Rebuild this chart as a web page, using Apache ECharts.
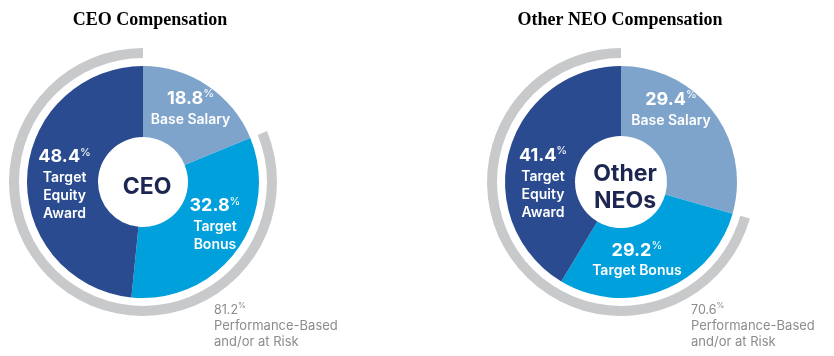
<!DOCTYPE html>
<html><head><meta charset="utf-8">
<script src="https://cdn.jsdelivr.net/npm/echarts@6/dist/echarts.min.js"></script>
<style>html,body{margin:0;padding:0;background:#fff}#c{width:834px;height:356px}</style>
</head><body><div id="c"></div>
<script>
const categories = ['Base Salary', 'Target Bonus', 'Target Equity Award'];
const ceoValues = [18.8, 32.8, 48.4];
const neoValues = [29.4, 29.2, 41.4];
const ceoLabelNames = ['Base Salary', 'Target\nBonus', 'Target\nEquity\nAward'];
const neoLabelNames = ['Base Salary', 'Target Bonus', 'Target\nEquity\nAward'];
const ceoAtRisk = 81.2;
const neoAtRisk = 70.6;
const chartTitles = ['CEO Compensation', 'Other NEO Compensation'];
const centerTexts = ['CEO', 'Other\nNEOs'];
const riskText = ['Performance-Based', 'and/or at Risk'];

const colors = ['#7FA4CB', '#00A0DC', '#2A4B8F'];
const FONT = 'Inter, Roboto, sans-serif';
const ceoOffsets = [[1, -5], [5, -8], [5, 6]];
const neoOffsets = [[-17, -23], [-15, -1], [3, 23]];

function donut(values, names, center, r0, r, offsets) {
  return {
    type: 'pie', center: center, radius: [r0, r], startAngle: 90, clockwise: true,
    silent: true, animation: false,
    itemStyle: { borderWidth: 0 },
    label: {
      show: true, position: 'inside', color: '#fff', fontFamily: FONT,
      formatter: p => '{v|' + p.value.toFixed(1) + '}{p|%}\n{n|' + names[p.dataIndex].split('\n').join('}\n{n|') + '}',
      rich: {
        v: { fontSize: 18, fontWeight: 'bold', color: '#fff', fontFamily: FONT, lineHeight: 24 },
        p: { fontSize: 11, color: '#fff', fontFamily: FONT, verticalAlign: 'top', lineHeight: 24, padding: [2, 0, 0, 0] },
        n: { fontSize: 14, fontWeight: 600, color: '#fff', fontFamily: FONT, lineHeight: 18, align: 'center' }
      }
    },
    labelLine: { show: false },
    labelLayout: p => ({ dx: offsets[p.dataIndex][0], dy: offsets[p.dataIndex][1] }),
    data: values.map((v, i) => ({ name: categories[i], value: v, itemStyle: { color: colors[i] } }))
  };
}
function ring(risk, center) {
  return {
    type: 'pie', center: center, radius: [124, 134], startAngle: 90, clockwise: true,
    silent: true, animation: false, label: { show: false }, labelLine: { show: false },
    data: [
      { name: 'gap', value: +(100 - risk).toFixed(1), itemStyle: { color: 'rgba(0,0,0,0)' } },
      { name: 'Performance-Based and/or at Risk', value: risk, itemStyle: { color: '#C8C9CA' } }
    ]
  };
}
const riskTitle = (val, left) => ({
  text: '{a|' + val.toFixed(1) + '}{b|%}\n{c|' + riskText[0] + '}\n{c|' + riskText[1] + '}',
  left: left, top: 297,
  textStyle: { fontWeight: 'normal', rich: {
    a: { fontSize: 12.5, fontWeight: 'normal', color: '#8C8C8C', fontFamily: FONT, lineHeight: 16 },
    b: { fontSize: 8, fontWeight: 'normal', color: '#8C8C8C', fontFamily: FONT, verticalAlign: 'top', lineHeight: 16 },
    c: { fontSize: 13, fontWeight: 'normal', color: '#8C8C8C', fontFamily: FONT, lineHeight: 16 }
  } }
});
const serif = '"Liberation Serif", "Times New Roman", serif';
const chart = echarts.init(document.getElementById('c'));
chart.setOption({
  animation: false,
  title: [
    { text: chartTitles[0], left: 145, top: 6, textAlign: 'center', textStyle: { fontFamily: serif, fontWeight: 'bold', fontSize: 18, color: '#000' } },
    { text: chartTitles[1], left: 615, top: 6, textAlign: 'center', textStyle: { fontFamily: serif, fontWeight: 'bold', fontSize: 18, color: '#000' } },
    { text: centerTexts[0], left: 142, top: 182, textAlign: 'center', textVerticalAlign: 'middle', textStyle: { fontFamily: FONT, fontWeight: 'bold', fontSize: 23, color: '#1D2650' } },
    { text: centerTexts[1], left: 620, top: 183, textAlign: 'center', textVerticalAlign: 'middle', textStyle: { fontFamily: FONT, fontWeight: 'bold', fontSize: 23, lineHeight: 27, color: '#1D2650' } },
    riskTitle(ceoAtRisk, 209),
    riskTitle(neoAtRisk, 686)
  ],
  series: [
    ring(ceoAtRisk, [143, 182]),
    donut(ceoValues, ceoLabelNames, [143, 182], 45, 116, ceoOffsets),
    ring(neoAtRisk, [621, 182]),
    donut(neoValues, neoLabelNames, [621, 182], 46, 116, neoOffsets)
  ]
});
</script></body></html>
